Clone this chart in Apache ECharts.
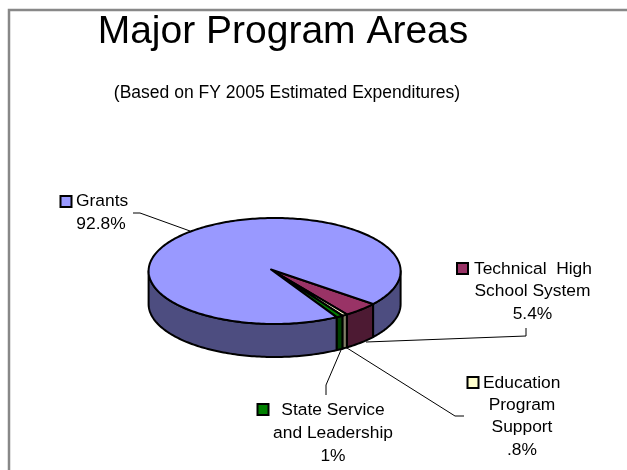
<!DOCTYPE html>
<html>
<head>
<meta charset="utf-8">
<style>html,body{margin:0;padding:0;background:#fff}#chart{width:627px;height:470px}</style>
<script src="https://cdn.jsdelivr.net/npm/echarts@6/dist/echarts.min.js"></script>
</head>
<body>
<div id="chart"></div>
<script>
// Program areas, in clockwise drawing order starting at the right of the pie
const programs = ['Technical High School System', 'Education Program Support', 'State Service and Leadership', 'Grants'];
const shares = [5.4, 0.8, 1.0, 92.8];
const shareLabels = ['5.4%', '.8%', '1%', '92.8%'];
const topColors = ['#993366', '#FFFFCC', '#008000', '#9999FF'];
const wallColors = ['#4D1A33', '#808066', '#004000', '#4D4D80'];

const FONT = '"Liberation Sans", Arial, sans-serif';
const CX = 274.6, CY = 271, RX = 126, RY = 53, DEPTH = 33;
const APEX = [271, 269.5];
const START = 36.5 * Math.PI / 180;

// Viewing angle foreshortens the rim slightly: real angle to drawn angle
const VIEW_K = 4.5 * Math.PI / 180, VIEW_P = 80 * Math.PI / 180;
const view = a => a + VIEW_K * Math.sin(2 * a + VIEW_P);

const rim = a => [CX + RX * Math.cos(a), CY + RY * Math.sin(a)];

function arcPoints(a0, a1, dy) {
  const n = Math.max(2, Math.ceil((a1 - a0) / 0.02));
  const pts = [];
  for (let i = 0; i <= n; i++) {
    const p = rim(a0 + (a1 - a0) * i / n);
    pts.push([p[0], p[1] + dy]);
  }
  return pts;
}

// Angular extent of every slice, accumulated from the shares
const total = shares.reduce((s, v) => s + v, 0);
const extents = [];
shares.reduce((a, v) => {
  const b = a + v / total * Math.PI * 2;
  extents.push([view(a), view(b)]);
  return b;
}, START);

const edge = { stroke: '#000', lineWidth: 2, lineJoin: 'round' };

function renderSlice(params, api) {
  const i = params.dataIndex;
  const [a0, a1] = extents[i];
  const children = [];
  // Visible wall: only the front half of the rim, between 0 and 180 degrees
  const ranges = [[a0, a1], [a0 - Math.PI * 2, a1 - Math.PI * 2]];
  ranges.forEach(([s, e]) => {
    const w0 = Math.max(s, 0), w1 = Math.min(e, Math.PI);
    if (w1 > w0) {
      const upper = arcPoints(w0, w1, 0);
      const lower = arcPoints(w0, w1, DEPTH).reverse();
      children.push({
        type: 'polygon',
        shape: { points: upper.concat(lower) },
        style: Object.assign({ fill: wallColors[i] }, edge)
      });
    }
  });
  children.push({
    type: 'polygon',
    shape: { points: [APEX].concat(arcPoints(a0, a1, 0)) },
    style: Object.assign({ fill: topColors[i] }, edge)
  });
  return { type: 'group', children };
}

// Callout: legend key, text lines and the leader running to the pie
const callouts = [
  { key: [457, 263], lines: ['Technical  High', 'School System', shareLabels[0]], x: 532.5, y: 269, lh: 22.5,
    leader: [[526, 328], [526, 336], [366, 342]], firstX: 474 },
  { key: [467.5, 377], lines: ['Education', 'Program', 'Support', shareLabels[1]], x: 522, y: 383, lh: 22.3,
    leader: [[464, 416], [455, 416], [347, 348]], firstX: 483 },
  { key: [257.5, 404], lines: ['State Service', 'and Leadership', shareLabels[2]], x: 333, y: 410, lh: 23,
    leader: [[326, 395], [326, 385], [341, 350]] },
  { key: [60.5, 196], lines: ['Grants', shareLabels[3]], x: 101, y: 201, lh: 23,
    leader: [[133, 213], [140, 213], [190, 231]], firstX: 76 }
];

const calloutGraphics = [];
callouts.forEach((c, i) => {
  calloutGraphics.push({
    type: 'polyline', shape: { points: c.leader },
    style: { fill: null, stroke: '#000', lineWidth: 1 }, silent: true
  });
  calloutGraphics.push({
    type: 'rect', shape: { x: c.key[0], y: c.key[1], width: 11, height: 11 },
    style: { fill: topColors[i], stroke: '#000', lineWidth: 2 }
  });
  c.lines.forEach((t, j) => {
    const first = j === 0 && c.firstX !== undefined;
    calloutGraphics.push({
      type: 'text', x: first ? c.firstX : c.x, y: c.y + j * c.lh,
      style: { text: t, font: '17.4px ' + FONT, fill: '#000', align: first ? 'left' : 'center', verticalAlign: 'middle' }
    });
  });
});

const chart = echarts.init(document.getElementById('chart'), null, { renderer: 'canvas' });
chart.setOption({
  animation: false,
  backgroundColor: '#fff',
  title: [
    { text: 'Major Program Areas', left: 278, top: 8, textAlign: 'center',
      textStyle: { fontFamily: FONT, fontSize: 39, fontWeight: 'normal', color: '#000' } },
    { text: '(Based on FY 2005 Estimated Expenditures)', left: 282, top: 79, textAlign: 'center',
      textStyle: { fontFamily: FONT, fontSize: 17.5, fontWeight: 'normal', color: '#000' } }
  ],
  graphic: [
    { type: 'polyline', shape: { points: [[9, 470], [9, 10], [627, 10]] },
      style: { fill: null, stroke: '#888', lineWidth: 2.5 }, silent: true }
  ].concat(calloutGraphics),
  series: [{
    type: 'custom',
    coordinateSystem: 'none',
    renderItem: renderSlice,
    silent: true,
    data: shares.map((v, i) => ({ name: programs[i], value: v })),
    z: 3
  }]
});
</script>
</body>
</html>
